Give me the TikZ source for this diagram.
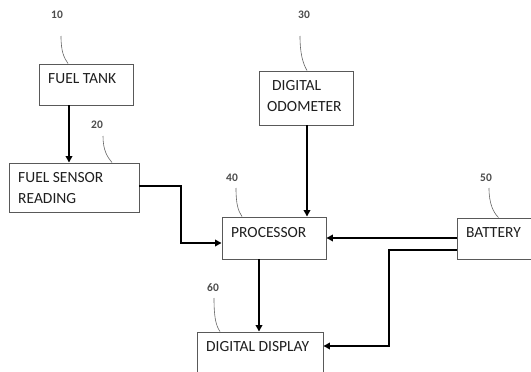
\documentclass[tikz,border=0pt]{standalone}
\usepackage{fontspec}
\setmainfont{Carlito}
\usetikzlibrary{arrows.meta}
\begin{document}
\begin{tikzpicture}[x=1pt,y=-1pt,
  box/.style={draw=black!65,line width=0.9pt,inner sep=0pt},
  txt/.style={anchor=base west,inner sep=0pt,font=\fontsize{15.5}{18}\selectfont,text=black!88},
  num/.style={inner sep=0pt,font=\fontsize{11.5}{13}\selectfont\bfseries,text=black!70},
  lead/.style={draw=black!60,line width=0.6pt},
  conn/.style={draw=black,line width=2pt,-{Triangle[length=6.5pt,width=6.5pt]}}]
\useasboundingbox (0,0) rectangle (531,372);
\clip (0,0) rectangle (531,372);
\fill[white] (0,0) rectangle (531,372);
% boxes
\node[box,minimum width=94pt,minimum height=41pt] (tank) at (86,84.5) {};
\node[box,minimum width=94pt,minimum height=54pt] (odo) at (306,98) {};
\node[box,minimum width=130pt,minimum height=49pt] (sensor) at (74,187.5) {};
\node[box,minimum width=104pt,minimum height=42pt] (proc) at (274,238) {};
\node[box,minimum width=83pt,minimum height=41pt] (batt) at (498.5,238.5) {};
\node[box,minimum width=126pt,minimum height=53pt] (disp) at (260,358.5) {};
% texts
\node[txt] (ttank) at (48,83) {FUEL TANK};
\node[txt] (todo1) at (272,90) {DIGITAL};
\node[txt] (todo2) at (267,111) {ODOMETER};
\node[txt] (tsen1) at (18,182) {FUEL SENSOR};
\node[txt] (tsen2) at (18,203) {READING};
\node[txt] (tproc) at (231,237) {PROCESSOR};
\node[txt] (tbatt) at (466,237) {BATTERY};
\node[txt] (tdisp) at (206,351) {DIGITAL DISPLAY};
% reference numbers
\node[num] (n10) at (57,15) {10};
\node[num] (n30) at (304,15) {30};
\node[num] (n20) at (97,125) {20};
\node[num] (n40) at (232,178) {40};
\node[num] (n50) at (486,178) {50};
\node[num] (n60) at (213,288) {60};
% leaders
\draw[lead] ([shift={(4,21)}]n10.center) .. controls +(0,16) and +(-4,-6) .. ([xshift=-18pt]tank.north);
\draw[lead] ([shift={(-4,21)}]n30.center) .. controls +(0,18) and +(-4,-7) .. ([xshift=1pt]odo.north);
\draw[lead] ([shift={(6,11)}]n20.center) .. controls +(0,14) and +(-5,-6) .. ([xshift=38pt]sensor.north);
\draw[lead] ([shift={(4,10)}]n40.center) .. controls +(0,16) and +(-4,-6) .. ([xshift=-32pt]proc.north);
\draw[lead] ([shift={(3,10)}]n50.center) .. controls +(0,16) and +(-5,-5) .. (batt.north);
\draw[lead] ([shift={(1,10)}]n60.center) .. controls +(0,20) and +(-4,-6) .. ([xshift=-40pt]disp.north);
% connectors
\draw[conn] ([xshift=-17pt]tank.south) -- ([xshift=-17pt]tank.south |- sensor.north);
\draw[conn] ([xshift=1pt]odo.south) -- ([xshift=1pt]odo.south |- proc.north);
\draw[conn] ([yshift=1.5pt]sensor.east) -- ++(42,0) |- ([yshift=-5pt]proc.west);
\draw[conn] ([yshift=0.5pt]batt.west) -- ([yshift=0.5pt]batt.west -| proc.east);
\draw[conn] ([xshift=-15pt]proc.south) -- ([xshift=-15pt]proc.south |- disp.north);
\draw[conn] ([yshift=-11.5pt]batt.west) -- ++(-68,0) |- ([yshift=12.5pt]disp.east);
\end{tikzpicture}
\end{document}
